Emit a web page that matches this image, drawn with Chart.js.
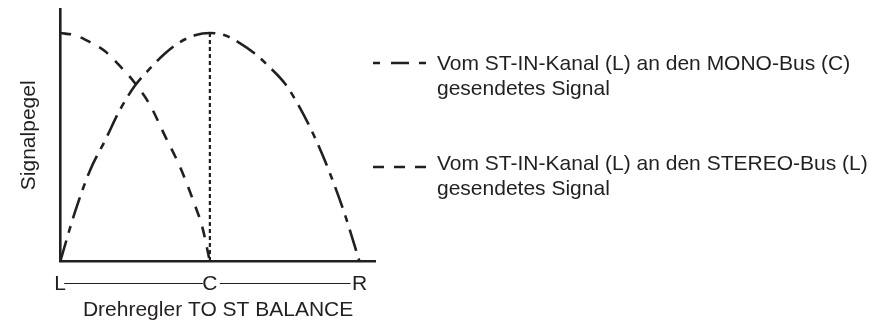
<!DOCTYPE html>
<html>
<head>
<meta charset="utf-8">
<script src="https://cdn.jsdelivr.net/npm/chart.js@4"></script>
<style>
  html, body { margin: 0; padding: 0; background: #fff; }
  #wrap { position: relative; width: 888px; height: 321px; }
</style>
</head>
<body>
<div id="wrap"><canvas id="balance-chart"></canvas></div>
<script>
// Positionen des Drehreglers (L, C, R)
const positionLabels = ['L', 'C', 'R'];
const positionValues = [0, 1, 2];

// MONO-Bus (C): Strich-Punkt-Kurve
const monoX = [0, 0.1, 0.2, 0.3, 0.4, 0.5, 0.6, 0.7, 0.8, 0.9, 1.0, 1.1, 1.2, 1.3, 1.4, 1.5, 1.6, 1.7, 1.8, 1.9, 2.0];
const monoY = [0, 0.22, 0.40, 0.53, 0.665, 0.77, 0.845, 0.91, 0.96, 0.99, 1.0, 0.99, 0.956, 0.91, 0.85, 0.78, 0.675, 0.545, 0.39, 0.21, 0];

// STEREO-Bus (L): gestrichelte Kurve
const stereoX = [0, 0.1, 0.2, 0.3, 0.4, 0.5, 0.6, 0.7, 0.8, 0.9, 0.95, 1.0];
const stereoY = [1.0, 0.99, 0.96, 0.92, 0.855, 0.78, 0.685, 0.55, 0.415, 0.247, 0.15, 0];

// Mittelstellung (gepunktet)
const centerX = [1, 1];
const centerY = [1, 0];

const legendTexts = [
  ['Vom ST-IN-Kanal (L) an den MONO-Bus (C)', 'gesendetes Signal'],
  ['Vom ST-IN-Kanal (L) an den STEREO-Bus (L)', 'gesendetes Signal']
];
const yTitle = 'Signalpegel';
const xTitle = 'Drehregler TO ST BALANCE';

const ink = '#231f20';
const fontFamily = '"Liberation Sans", Arial, Helvetica, sans-serif';

function toPoints(xs, ys) {
  return xs.map((x, i) => ({ x: x, y: ys[i] }));
}

// Legende rechts und Verbindungslinien L—C—R
const extras = {
  id: 'extras',
  afterDraw(chart) {
    const ctx = chart.ctx;
    const xs = chart.scales.x;
    ctx.save();
    ctx.strokeStyle = ink;
    ctx.fillStyle = ink;

    // dünne Linie zwischen den Beschriftungen
    const yLine = 283.5;
    const p0 = xs.getPixelForValue(positionValues[0]);
    const p1 = xs.getPixelForValue(positionValues[1]);
    const p2 = xs.getPixelForValue(positionValues[2]);
    ctx.lineWidth = 1;
    ctx.setLineDash([]);
    ctx.beginPath();
    ctx.moveTo(p0 + 4, yLine); ctx.lineTo(p1 - 7, yLine);
    ctx.moveTo(p1 + 10, yLine); ctx.lineTo(p2 - 9, yLine);
    ctx.stroke();

    // Legende
    const dashes = [[7, 11, 18, 10, 7, 100], [11, 10]];
    const sampleY = [63, 167];
    const baseY = [70, 170];
    ctx.lineWidth = 2.5;
    ctx.font = '21px ' + fontFamily;
    ctx.textBaseline = 'alphabetic';
    ctx.textAlign = 'left';
    legendTexts.forEach((lines, i) => {
      ctx.setLineDash(dashes[i]);
      ctx.beginPath();
      ctx.moveTo(373, sampleY[i]);
      ctx.lineTo(427, sampleY[i]);
      ctx.stroke();
      lines.forEach((t, j) => {
        ctx.fillText(t, 437, baseY[i] + j * 25);
      });
    });
    ctx.restore();
  }
};

new Chart(document.getElementById('balance-chart'), {
  type: 'line',
  data: {
    datasets: [
      {
        label: legendTexts[0].join(' '),
        data: toPoints(monoX, monoY),
        borderColor: ink,
        borderWidth: 2.6,
        borderDash: [22, 8, 7, 8],
        cubicInterpolationMode: 'monotone',
        pointRadius: 0,
        fill: false
      },
      {
        label: legendTexts[1].join(' '),
        data: toPoints(stereoX, stereoY),
        borderColor: ink,
        borderWidth: 2.6,
        borderDash: [11, 10],
        cubicInterpolationMode: 'monotone',
        pointRadius: 0,
        fill: false
      },
      {
        label: 'C',
        data: toPoints(centerX, centerY),
        borderColor: ink,
        borderWidth: 2.2,
        borderDash: [4, 3],
        pointRadius: 0,
        fill: false
      }
    ]
  },
  options: {
    responsive: true,
    maintainAspectRatio: false,
    animation: false,
    layout: { padding: { left: 17, right: 512, top: 9, bottom: 0 } },
    plugins: {
      legend: { display: false },
      tooltip: { enabled: false }
    },
    scales: {
      x: {
        type: 'linear',
        min: 0,
        max: 2.11,
        afterBuildTicks: (scale) => {
          scale.ticks = positionValues.map(v => ({ value: v }));
        },
        grid: { display: false, drawTicks: false },
        border: { display: true, color: ink, width: 2.6 },
        ticks: {
          color: ink,
          padding: 10,
          maxRotation: 0,
          autoSkip: false,
          font: { family: fontFamily, size: 21 },
          callback: (v) => positionLabels[positionValues.indexOf(v)]
        },
        title: {
          display: true,
          text: xTitle,
          color: ink,
          padding: { top: -9, bottom: -2 },
          font: { family: fontFamily, size: 21 }
        }
      },
      y: {
        min: 0,
        max: 1.105,
        grid: { display: false, drawTicks: false },
        border: { display: true, color: ink, width: 2.6 },
        ticks: { display: false },
        title: {
          display: true,
          text: yTitle,
          color: ink,
          padding: { top: 0, bottom: 18 },
          font: { family: fontFamily, size: 21 }
        }
      }
    }
  },
  plugins: [extras]
});
</script>
</body>
</html>
